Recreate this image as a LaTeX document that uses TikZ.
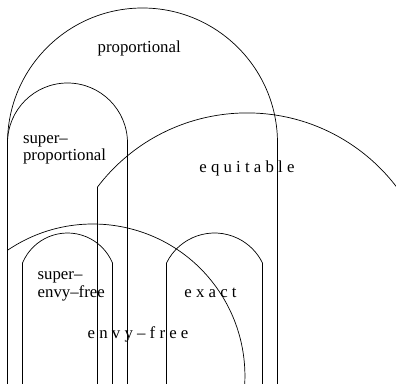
\documentclass[tikz,border=0pt]{standalone}
\usepackage{fontspec}
\setmainfont{Liberation Serif}
\begin{document}
\begin{tikzpicture}[x=1pt,y=1pt,line width=0.7pt,
  lbl/.style={inner sep=0pt,anchor=base west,font=\fontsize{16.8}{17.5}\selectfont}]
\useasboundingbox (0,0) rectangle (396,383);
\clip (0,0) rectangle (396,383);
% proportional
\draw (7.5,-2) -- (7.5,240) arc[start angle=180,end angle=0,radius=135] -- (277.5,-2);
% super-proportional
\draw (7.5,240) arc[start angle=180,end angle=0,radius=60] -- (127.5,-2);
% equitable
\draw (97.5,-2) -- (97.5,196) arc[start angle=142.7,end angle=15,radius=188];
% envy-free
\draw (7.5,132.7) arc[start angle=124.2,end angle=-10,radius=152];
% super-envy-free
\draw (22.5,-2) -- (22.5,120) arc[start angle=157.38,end angle=22.62,radius=48.75] -- (112.5,-2);
% exact
\draw (166.5,-2) -- (166.5,120) arc[start angle=154,end angle=26,radius=53.4] -- (262.5,-2);
% labels
\node[lbl] (prop) at (97.3,330.3) {proportional};
\node[lbl] (sp1) at (22.7,239.7) {super–};
\node[lbl] (sp2) at (22.7,222.3) {proportional};
\node[lbl] (eq) at (199,210.3) {e q u i t a b l e};
\node[lbl] (se1) at (37.3,103) {super–};
\node[lbl] (se2) at (37.3,85.5) {envy–free};
\node[lbl] (ex) at (184,85.7) {e x a c t};
\node[lbl] (ef) at (87.3,44.7) {e n v y – f r e e};
\end{tikzpicture}
\end{document}
